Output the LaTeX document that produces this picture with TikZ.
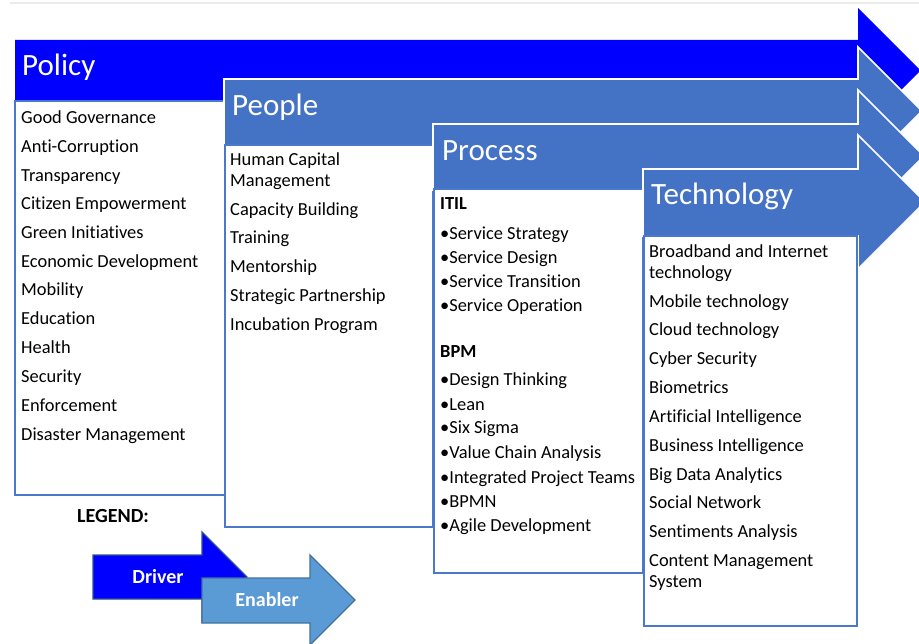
\documentclass[tikz,border=0pt]{standalone}
\usepackage{fontspec}
\setmainfont{Carlito}[Ligatures=NoCommon]
\definecolor{polblue}{HTML}{0000FF}
\definecolor{midblue}{HTML}{4472C4}
\definecolor{boxblue}{HTML}{4A78CC}
\definecolor{drvline}{HTML}{2F528F}
\definecolor{enbfill}{HTML}{5B9BD5}
\definecolor{enbline}{HTML}{41719C}
\newcommand\ttlfnt{\fontsize{31}{36}\selectfont}
\newcommand\itmfnt{\fontsize{18.4}{21}\selectfont}
\newcommand\lgdfnt{\fontsize{20}{23}\selectfont\bfseries}
\tikzset{
  polarrow/.style={fill=polblue, draw=none},
  bluearrow/.style={fill=midblue, draw=white, line width=1.6pt, line join=miter},
  listbox/.style={fill=white, draw=boxblue, line width=1.6pt},
  ttl/.style={anchor=base west, text=white, font=\ttlfnt, inner sep=0pt},
  itm/.style={anchor=base west, font=\itmfnt, inner sep=0pt},
  itmb/.style={itm, font=\itmfnt\bfseries},
  drvarrow/.style={fill=polblue, draw=drvline, line width=1.3pt, line join=miter},
  enbarrow/.style={fill=enbfill, draw=enbline, line width=1.3pt, line join=miter},
  lgd/.style={font=\lgdfnt, inner sep=0pt, anchor=base},
}
\begin{document}
\begin{tikzpicture}[x=1pt,y=-1pt]
\useasboundingbox (0,0) rectangle (919,644);
\draw[black!8, line width=1.5pt] (10,3) -- (919,3);
% Policy
\path[polarrow] (15,40) -- (858,40) -- (858,8) -- (920.5,70.5) -- (858,133) -- (858,101) -- (15,101) -- cycle;
\path[listbox] (15,101) rectangle (225,495);
% People
\path[bluearrow] (224,79) -- (858,79) -- (858,47) -- (922,111) -- (858,175) -- (858,145) -- (224,145) -- cycle;
\path[listbox] (225,145) rectangle (433,527);
% Process
\path[bluearrow] (433,124) -- (858,124) -- (858,90) -- (924,156) -- (858,222) -- (858,190) -- (433,190) -- cycle;
\path[listbox] (434,189) rectangle (643,573);
% Technology
\path[bluearrow] (643,169) -- (858,169) -- (858,135) -- (925,202) -- (858,269) -- (858,236) -- (643,236) -- cycle;
\path[listbox] (644,236) rectangle (857,626);
% titles
\node[ttl] (tpol) at (22,76) {Policy};
\node[ttl] (tpeo) at (232,116) {People};
\node[ttl] (tpro) at (442,161) {Process};
\node[ttl] (ttec) at (651,205) {Technology};
% policy items
\foreach \y/\t [count=\i] in {117/Good Governance, 146/Anti-Corruption, 175/Transparency, 203/Citizen Empowerment, 232/Green Initiatives, 261/Economic Development, 289/Mobility, 318/Education, 347/Health, 376/Security, 405/Enforcement, 434/Disaster Management}
  \node[itm] (pol\i) at (21,\y+7) {\t};
% people items
\foreach \y/\t [count=\i] in {159/Human Capital, 180/Management, 209/Capacity Building, 237/Training, 266/Mentorship, 295/Strategic Partnership, 324/Incubation Program}
  \node[itm] (peo\i) at (230,\y+7) {\t};
% process items
\node[itmb] (itil) at (440,210) {ITIL};
\node[itmb] (bpm) at (440,358) {BPM};
\foreach \y/\t [count=\i] in {233/Service Strategy, 257/Service Design, 281/Service Transition, 305/Service Operation, 379/Design Thinking, 403/Lean, 427/Six Sigma, 451/Value Chain Analysis, 476/Integrated Project Teams, 500/BPMN, 524/Agile Development}
  \node[itm] (pro\i) at (440,\y+7) {•\t};
% technology items
\foreach \y/\t [count=\i] in {251/Broadband and Internet, 272/technology, 301/Mobile technology, 329/Cloud technology, 358/Cyber Security, 387/Biometrics, 415/Artificial Intelligence, 444/Business Intelligence, 473/Big Data Analytics, 501/Social Network, 530/Sentiments Analysis, 559/Content Management, 580/System}
  \node[itm] (tec\i) at (649,\y+7) {\t};
% legend
\node[lgd, anchor=base west] (legend) at (77,522) {LEGEND:};
\path[drvarrow] (93,555) -- (202,555) -- (202,532) -- (247,577) -- (202,622) -- (202,599) -- (93,599) -- cycle;
\path[enbarrow] (202,578) -- (310,578) -- (310,555) -- (355,600) -- (310,645) -- (310,623) -- (202,623) -- cycle;
\node[lgd, text=white] (drv) at (158,583) {Driver};
\node[lgd, text=white] (enb) at (267,606) {Enabler};
\end{tikzpicture}
\end{document}
